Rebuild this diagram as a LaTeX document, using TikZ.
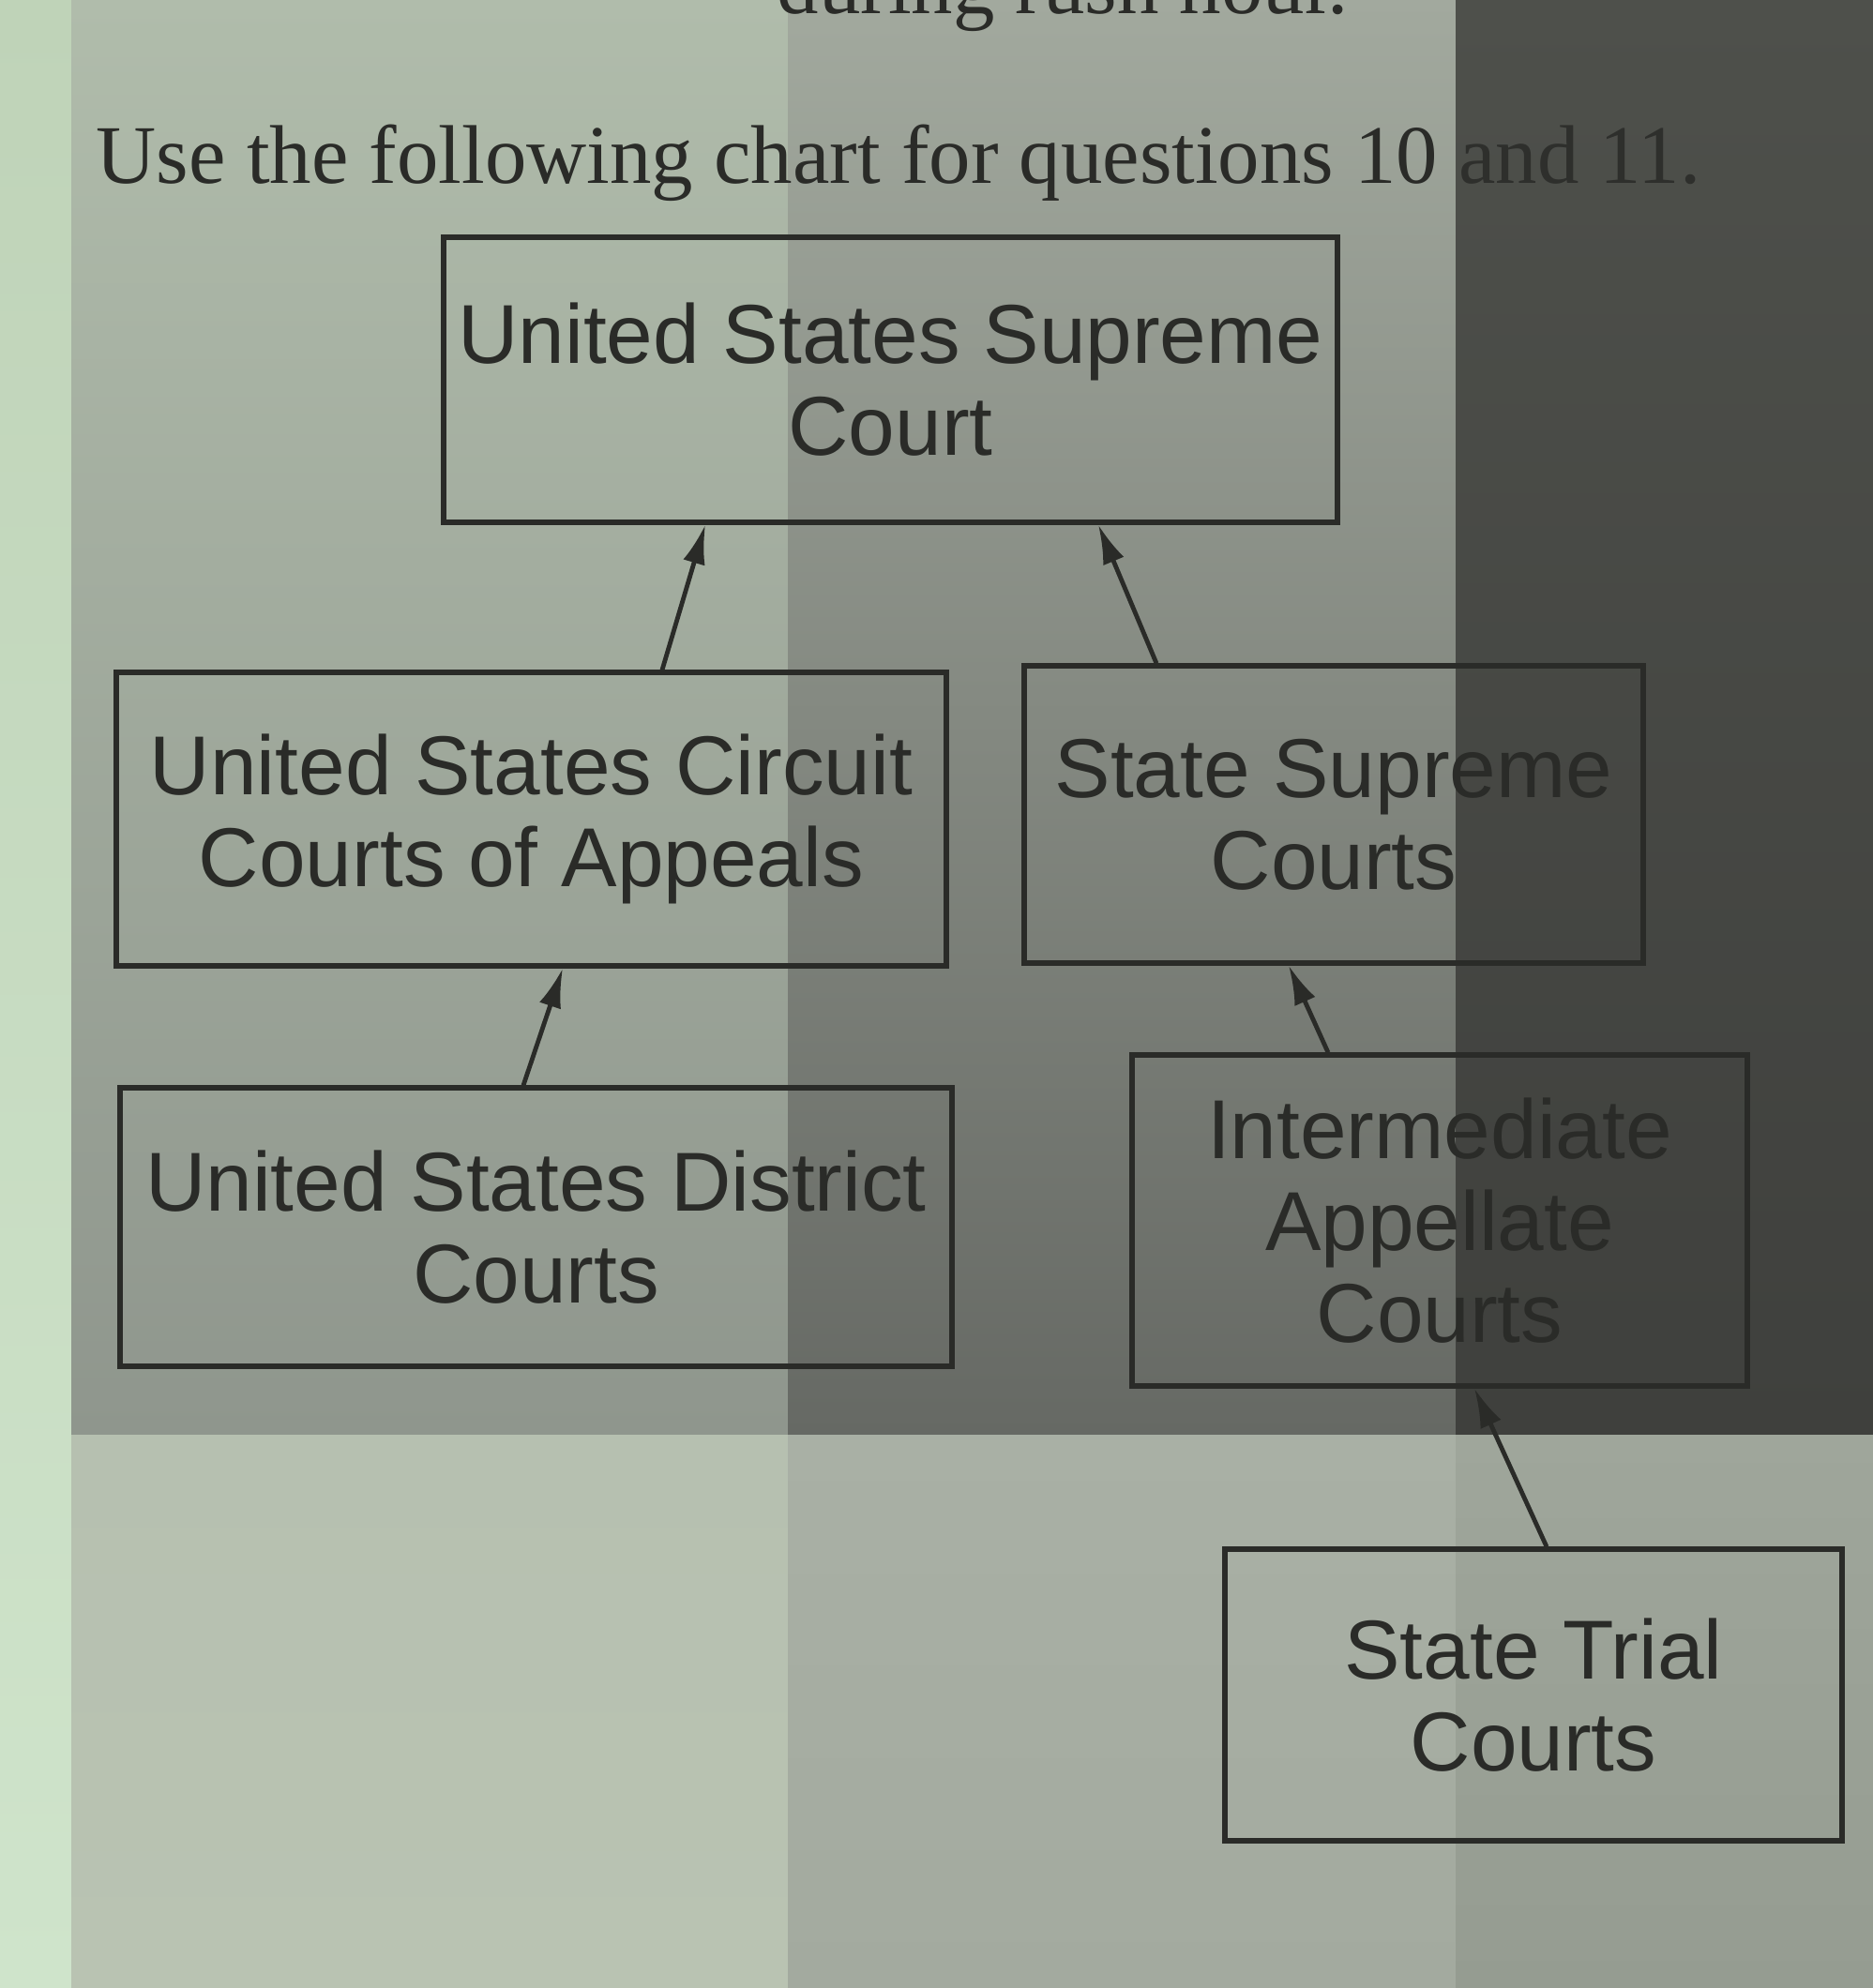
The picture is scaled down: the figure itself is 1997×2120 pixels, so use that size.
\documentclass[tikz,border=0pt]{standalone}
\usepackage{fontspec}
\setmainfont{Liberation Serif}
\newfontfamily\boxfont{Liberation Sans}
\usetikzlibrary{arrows.meta,calc}
\definecolor{ink}{HTML}{2A2B28}
\definecolor{inkdark}{HTML}{2E2F2C}
\begin{document}
\begin{tikzpicture}[x=0.25pt,y=-0.25pt,
  court/.style={draw=ink,line width=1.3pt,inner sep=0pt,align=center,
    font=\boxfont\fontsize{22.3}{24.5}\selectfont,text=ink},
  up/.style={draw=ink,line width=1.2pt,-{Latex[length=10.5pt,width=6pt]}},
  caption/.style={anchor=base west,inner sep=0pt,text=ink,
    font=\fontsize{22.2}{24}\selectfont}]
\useasboundingbox (0,0) rectangle (1997,2120);
\clip (0,0) rectangle (1997,2120);
% photographic background (light and shadow)
\fill[top color={rgb,255:red,191;green,211;blue,184},bottom color={rgb,255:red,207;green,228;blue,203}] (0,0) rectangle (76,2120);
\fill[top color={rgb,255:red,176;green,188;blue,171},bottom color={rgb,255:red,143;green,150;blue,141}] (76,0) rectangle (840,1530);
\fill[top color={rgb,255:red,162;green,169;blue,158},bottom color={rgb,255:red,102;green,105;blue,100}] (840,0) rectangle (1552,1530);
\fill[top color={rgb,255:red,78;green,80;blue,75},bottom color={rgb,255:red,63;green,64;blue,61}] (1552,0) rectangle (1997,1530);
\fill[top color={rgb,255:red,182;green,192;blue,176},bottom color={rgb,255:red,185;green,195;blue,178}] (76,1530) rectangle (840,2120);
\fill[top color={rgb,255:red,169;green,176;blue,165},bottom color={rgb,255:red,163;green,170;blue,159}] (840,1530) rectangle (1552,2120);
\fill[top color={rgb,255:red,159;green,166;blue,155},bottom color={rgb,255:red,149;green,156;blue,145}] (1552,1530) rectangle (1997,2120);
% texts above the chart
\node[caption] (prev) at (828,14) {during rush hour.};
\node[caption] (title) at (102,195) {Use the following chart for questions 10 \textcolor{inkdark}{and 11.}};
% boxes
\node[court,minimum width=238.25pt,minimum height=76pt] (sc) at (949.5,405) {United States Supreme\\Court};
\node[court,minimum width=221.25pt,minimum height=78.25pt] (circ) at (566.5,873.5) {United States Circuit\\Courts of Appeals};
\node[court,minimum width=165pt,minimum height=79.25pt] (ssc) at (1422,868.5) {State Supreme\\Courts};
\node[court,minimum width=221.75pt,minimum height=74.25pt] (dist) at (571.5,1308.5) {United States District\\Courts};
\node[court,minimum width=164pt,minimum height=88.25pt] (iac) at (1535,1301.5) {Intermediate\\Appellate\\Courts};
\node[court,minimum width=164.5pt,minimum height=77.75pt] (trial) at (1635,1807.5) {State Trial\\Courts};
% connectors
\draw[up] ($(circ.north)+(139.5,0)$) -- ($(sc.south)+(-197.5,0)$);
\draw[up] ($(ssc.north)+(-189,0)$) -- ($(sc.south)+(221.5,0)$);
\draw[up] ($(dist.north)+(-13.5,0)$) -- ($(circ.south)+(33.5,0)$);
\draw[up] ($(iac.north)+(-119,0)$) -- ($(ssc.south)+(-48,0)$);
\draw[up] ($(trial.north)+(14,0)$) -- ($(iac.south)+(37,0)$);
\end{tikzpicture}
\end{document}
